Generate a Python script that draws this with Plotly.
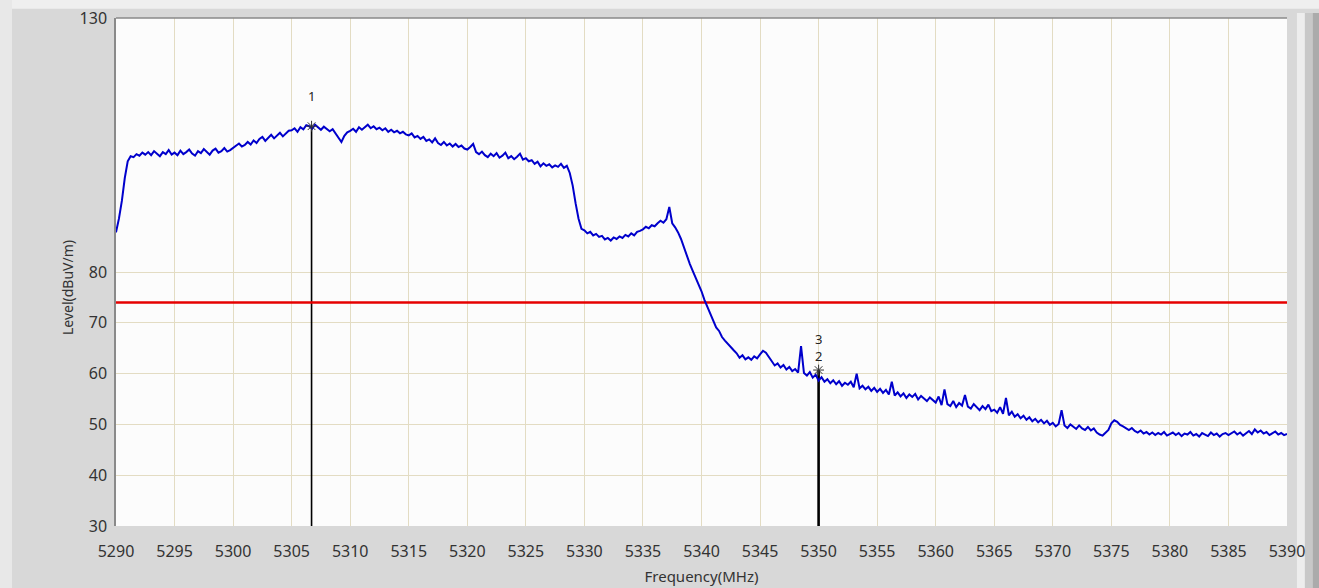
import numpy as np
import plotly.graph_objects as go

# ---- data ----
freq_start = 5290.0
freq_step = 0.25
level_dbuv = [
    87.8, 90.5, 94.0, 98.5, 101.8, 102.8, 102.6, 103.2, 102.9, 103.5, 103.1, 103.6, 103.0, 103.8, 103.3, 102.8, 103.6, 103.2, 104.0, 103.1,
    103.5, 103.0, 103.9, 103.2, 103.6, 104.1, 103.3, 102.9, 103.8, 103.4, 104.2, 103.6, 103.1, 103.9, 104.3, 103.5, 103.8, 104.4, 103.7, 104.0,
    104.4, 104.9, 105.3, 104.7, 105.0, 105.6, 105.1, 105.9, 105.4, 106.2, 106.6, 105.8, 106.4, 107.0, 106.3, 106.9, 107.4, 106.7, 107.2, 107.8,
    107.9, 108.3, 107.6, 108.5, 108.1, 108.9, 108.7, 108.2, 109.0, 108.4, 108.0, 108.6, 108.2, 107.7, 108.1, 107.3, 106.5, 105.6, 106.8, 107.5,
    107.8, 108.2, 107.6, 108.5, 108.0, 108.6, 109.0, 108.3, 108.7, 108.1, 108.4, 107.9, 108.3, 107.6, 108.0, 107.5, 107.8, 107.3, 107.6, 107.1,
    106.9, 107.3, 106.5, 106.8, 106.2, 106.6, 105.8, 106.1, 105.5, 106.3, 105.4, 105.0, 105.6, 104.9, 105.3, 104.7, 105.2, 104.6, 104.9, 104.3,
    104.1, 104.6, 105.2, 103.6, 103.2, 103.7, 103.0, 102.6, 103.3, 102.8, 103.4, 102.5, 102.9, 103.5, 102.4, 102.8, 102.2, 102.7, 103.3, 102.1,
    102.4, 101.8, 102.0, 101.3, 101.7, 100.8, 101.4, 100.9, 101.2, 100.6, 101.0, 100.7, 101.3, 100.5, 100.9, 99.5, 97.0, 93.5, 90.5, 88.5,
    88.2, 87.6, 87.9, 87.2, 87.5, 86.9, 87.1, 86.4, 86.7, 86.2, 86.8, 86.5, 87.0, 86.7, 87.3, 87.0, 87.6, 87.2, 87.9, 88.1,
    88.4, 88.9, 88.6, 89.2, 89.0, 89.6, 90.1, 89.7, 90.4, 92.8, 89.6, 88.8, 87.8, 86.5, 84.8, 83.2, 81.6, 80.2, 78.9, 77.5,
    76.2, 74.5, 73.2, 71.8, 70.3, 69.1, 68.4, 67.2, 66.5, 65.8, 65.1, 64.6, 64.0, 63.1, 63.6, 62.8, 63.2, 62.7, 63.4, 63.0,
    63.8, 64.5, 64.1, 63.2, 62.4, 61.6, 62.0, 61.2, 61.7, 60.8, 61.3, 60.5, 60.9, 60.2, 65.4, 60.1, 59.6, 60.3, 59.2, 59.8,
    58.6, 59.3, 58.4, 58.9, 58.1, 58.7, 57.9, 58.5, 57.6, 58.2, 57.8, 58.4, 57.3, 60.0, 57.1, 57.6, 56.9, 57.4, 56.6, 57.2,
    56.4, 57.0, 56.2, 56.8, 55.9, 58.4, 55.7, 56.3, 55.5, 56.1, 55.2, 55.9, 55.4, 56.0, 54.9, 55.6, 55.1, 54.6, 55.3, 54.8,
    54.3, 55.5, 53.8, 56.9, 54.0, 53.6, 54.6, 53.4, 54.2, 53.7, 55.8, 53.5, 53.1, 54.0, 53.3, 52.8, 53.6, 53.0, 53.9, 52.6,
    52.9, 52.3, 53.4, 52.1, 55.2, 51.8, 52.5, 51.5, 52.0, 51.2, 51.7, 50.9, 51.4, 50.6, 51.1, 50.4, 50.9, 50.2, 50.7, 49.9,
    50.3, 49.6, 50.1, 52.8, 49.8, 49.3, 50.0, 49.5, 49.1, 49.8, 49.2, 48.9, 49.5, 48.8, 49.2, 48.4, 48.0, 47.8, 48.3, 48.9,
    50.2, 50.8, 50.5, 49.9, 49.6, 49.2, 48.9, 49.3, 48.7, 48.4, 48.8, 48.2, 48.5, 48.0, 48.4, 47.9, 48.3, 48.0, 48.5, 47.8,
    48.1, 48.4, 47.9, 48.3, 47.7, 48.2, 48.0, 48.5, 47.8, 48.1, 47.6, 48.3, 48.0, 47.7, 48.4, 47.9, 48.2, 47.6, 48.1, 48.3,
    47.9, 48.2, 48.6, 48.0, 48.4, 47.8, 48.3, 48.7, 48.1, 49.0, 48.4, 48.8, 48.2, 48.5, 47.9, 48.3, 48.6, 48.0, 48.3, 47.9,
    48.1,
]
limit_level = 74.0
marker_freqs = [5306.7, 5350.0, 5350.0]
marker_levels = [108.7, 60.7, 60.7]
marker_labels = ["1", "2", "3"]
x_ticks = list(range(5290, 5391, 5))
y_ticks = [30, 40, 50, 60, 70, 80, 130]
y_min, y_max = 30, 130

freqs = freq_start + freq_step * np.arange(len(level_dbuv))

fig = go.Figure()

# marker stems
for f, lv, w in zip(marker_freqs[:2], marker_levels[:2], [1.6, 2.6]):
    fig.add_trace(go.Scatter(x=[f, f], y=[y_min, lv], mode="lines",
                             line=dict(color="black", width=w), hoverinfo="skip", showlegend=False))

# limit line
fig.add_trace(go.Scatter(x=[x_ticks[0], x_ticks[-1]], y=[limit_level, limit_level], mode="lines",
                         line=dict(color="#e60000", width=2.5), showlegend=False))

# measurement trace
fig.add_trace(go.Scatter(x=freqs, y=level_dbuv, mode="lines",
                         line=dict(color="#0000cc", width=2.0), showlegend=False))

# marker symbols
fig.add_trace(go.Scatter(x=marker_freqs[:2], y=marker_levels[:2], mode="markers",
                         marker=dict(symbol="asterisk-open", size=9, color="#333333",
                                     line=dict(color="#333333", width=1)),
                         showlegend=False))

# marker labels
label_offsets = [6.0, 2.8, 6.1]
for f, lv, t, o in zip(marker_freqs, marker_levels, marker_labels, label_offsets):
    fig.add_annotation(x=f, y=lv + o, text=t, showarrow=False, xanchor="center",
                       yanchor="middle", height=14,
                       font=dict(family="Noto Sans", size=13, color="#222222"))

# frame decorations
fig.add_shape(type="line", xref="paper", yref="paper", x0=0, x1=1, y0=1, y1=1,
              line=dict(color="#8a8a8a", width=1.5))
fig.add_shape(type="rect", xref="paper", yref="paper", x0=-0.2, x1=1.2, y0=1.018, y1=1.2,
              fillcolor="#efefef", line_width=0, layer="below")
fig.add_shape(type="rect", xref="paper", yref="paper", x0=-0.1, x1=-0.0888, y0=-0.2, y1=1.2,
              fillcolor="#e8e8e8", line_width=0, layer="below")
fig.add_shape(type="rect", xref="paper", yref="paper", x0=1.0085, x1=1.0153, y0=-0.2, y1=1.01,
              fillcolor="#ededed", line_width=0, layer="below")
fig.add_shape(type="rect", xref="paper", yref="paper", x0=1.0153, x1=1.022, y0=-0.2, y1=1.01,
              fillcolor="#c8c8c8", line_width=0, layer="below")
fig.add_shape(type="rect", xref="paper", yref="paper", x0=1.022, x1=1.03, y0=-0.2, y1=1.01,
              fillcolor="#ababab", line_width=0, layer="below")

fig.add_annotation(xref="paper", yref="paper", x=-0.0418, y=0.4685, text="Level(dBuV/m)",
                   textangle=-90, showarrow=False, xanchor="center", yanchor="middle",
                   font=dict(family="Noto Sans", size=14, color="#333333"))

fig.update_layout(
    width=1319, height=588,
    margin=dict(l=116, r=32, t=18, b=62, autoexpand=False),
    paper_bgcolor="#d8d8d8",
    plot_bgcolor="#fcfcfc",
    font=dict(family="Noto Sans", size=16, color="#333333"),
    xaxis=dict(range=[x_ticks[0], x_ticks[-1]], tickvals=x_ticks, showgrid=True, automargin=False,
               gridcolor="#e3dcc3", gridwidth=1.2, zeroline=False, showline=False,
               ticks="outside", ticklen=11, tickcolor="rgba(0,0,0,0)",
               title=dict(text="Frequency(MHz)", font=dict(size=15), standoff=10)),
    yaxis=dict(range=[y_min, y_max], tickvals=y_ticks, showgrid=True, automargin=False,
               gridcolor="#e3dcc3", gridwidth=1.2, zeroline=False,
               showline=True, linecolor="#8a8a8a", linewidth=1.5,
               ticks="outside", ticklen=4, tickcolor="rgba(0,0,0,0)"),
)

fig.write_html("out.html", config={"displayModeBar": False},
               post_script="document.body.style.margin='0';document.body.style.overflow='hidden';")
